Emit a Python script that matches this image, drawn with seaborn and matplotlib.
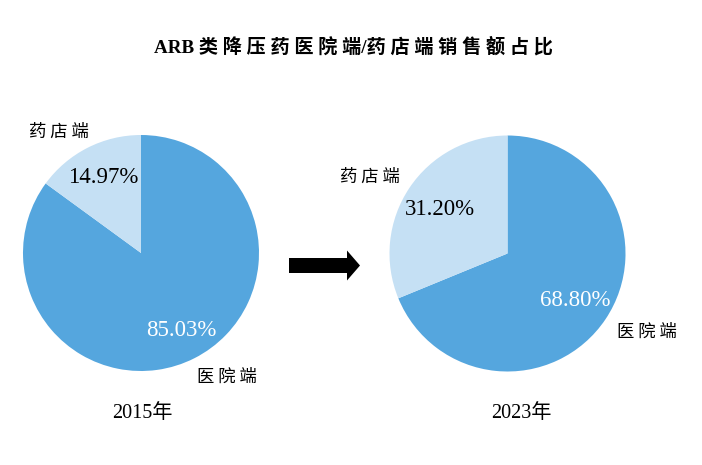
import matplotlib
matplotlib.use('Agg')
import matplotlib.pyplot as plt
import seaborn as sns
from matplotlib.patches import FancyArrow

# Data
segments = ['医院端', '药店端']
share_2015 = [85.03, 14.97]
share_2023 = [68.80, 31.20]
years = ['2015年', '2023年']
title = 'ARB类降压药医院端/药店端销售额占比'

sns.set_theme(style='white')
colors = ['#55A6DE', '#C5E0F4']
serif = ['Liberation Serif', 'Noto Sans CJK SC']
cjk = ['Noto Sans CJK SC', 'Liberation Serif']

W, H = 702, 465
fig = plt.figure(figsize=(W / 100, H / 100), dpi=100)
ax = fig.add_axes([0, 0, 1, 1])
ax.set_aspect('equal')
ax.axis('off')


def y(px):
    # pixel row from top -> data y
    return H - px


def spaced(s):
    # loose CJK letter spacing like the source document
    return ' '.join(s)


# Pies: hospital first, clockwise from 12 o'clock
ax.pie(share_2015, colors=colors, startangle=90, counterclock=False,
       center=(141, y(253)), radius=118, wedgeprops=dict(linewidth=0))
ax.pie(share_2023, colors=colors, startangle=90, counterclock=False,
       center=(507.5, y(253.5)), radius=118, wedgeprops=dict(linewidth=0))
ax.set_xlim(0, W)
ax.set_ylim(0, H)

# Title
left, right = title[3:].split('/')
ax.text(353, y(47), 'ARB ' + spaced(left) + '/' + spaced(right),
        ha='center', va='center', fontsize=13.8, fontweight='bold',
        color='black', family=serif)

# Percentage labels
pct = dict(ha='center', va='center', fontsize=16.5, family=serif)
ax.text(103, y(177), f'{share_2015[1]:.2f}%', color='black', **pct)
ax.text(181, y(330), f'{share_2015[0]:.2f}%', color='white', **pct)
ax.text(440, y(209), f'{share_2023[1]:.2f}%', color='black', **pct)
ax.text(575, y(300), f'{share_2023[0]:.2f}%', color='white', **pct)

# Category labels
cat = dict(ha='center', va='center', fontsize=12.5, color='black', family=cjk)
ax.text(59, y(132), spaced(segments[1]), **cat)
ax.text(227, y(377), spaced(segments[0]), **cat)
ax.text(370, y(177), spaced(segments[1]), **cat)
ax.text(647, y(332), spaced(segments[0]), **cat)

# Year labels
yr = dict(ha='center', va='center', fontsize=14.5, color='black', family=serif)
ax.text(142, y(413), years[0], **yr)
ax.text(521, y(413), years[1], **yr)

# Arrow between pies
ax.add_patch(FancyArrow(289, y(265.5), 71, 0, width=15, head_width=30,
                        head_length=13, length_includes_head=True,
                        color='black', linewidth=0))

fig.savefig('out.png', dpi=100, facecolor='white')
